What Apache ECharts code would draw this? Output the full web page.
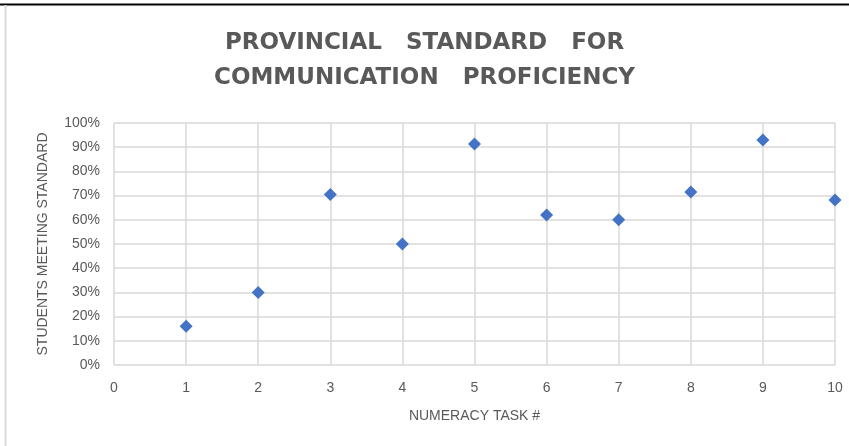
<!DOCTYPE html>
<html>
<head>
<meta charset="utf-8">
<script src="https://cdn.jsdelivr.net/npm/echarts@6/dist/echarts.min.js"></script>
<style>
  html, body { margin: 0; padding: 0; background: #fff; }
  #chart { width: 849px; height: 446px; }
</style>
</head>
<body>
<div id="chart"></div>
<script>
// task numbers and share of students meeting the standard (%)
const tasks = [1, 2, 3, 4, 5, 6, 7, 8, 9, 10]
const meeting = [16, 30, 70.5, 50, 91.3, 62, 60, 71.5, 93, 68.2]

const textColor = '#595959'
const gridColor = '#d9d9d9'
const fontFamily = 'Liberation Sans, Arial, sans-serif'

const chart = echarts.init(document.getElementById('chart'), null, { renderer: 'canvas' })

chart.setOption({
  animation: false,
  title: {
    text: 'PROVINCIAL   STANDARD   FOR\nCOMMUNICATION   PROFICIENCY',
    left: 'center',
    top: 21,
    textStyle: {
      color: textColor,
      fontFamily: 'DejaVu Sans',
      fontSize: 23,
      fontWeight: 'bold',
      lineHeight: 35
    }
  },
  graphic: [
    {
      type: 'line',
      shape: { x1: 0, y1: 4.5, x2: 849, y2: 4.5 },
      style: { stroke: '#000', lineWidth: 2 }
    },
    {
      type: 'line',
      shape: { x1: 5.5, y1: 5, x2: 5.5, y2: 446 },
      style: { stroke: gridColor, lineWidth: 2 }
    }
  ],
  grid: {
    left: 114,
    right: 14,
    top: 123,
    bottom: 81
  },
  xAxis: {
    type: 'value',
    min: 0,
    max: 10,
    interval: 1,
    name: 'NUMERACY TASK #',
    nameLocation: 'middle',
    nameGap: 44,
    nameTextStyle: { color: textColor, fontSize: 14, fontFamily },
    axisLine: { show: false },
    axisTick: { show: false },
    axisLabel: { color: textColor, fontSize: 14, fontFamily, margin: 16 },
    splitLine: { show: true, lineStyle: { color: gridColor, width: 1.5 } }
  },
  yAxis: {
    type: 'value',
    min: 0,
    max: 100,
    interval: 10,
    name: 'STUDENTS MEETING STANDARD',
    nameLocation: 'middle',
    nameGap: 64,
    nameTextStyle: { color: textColor, fontSize: 14, fontFamily },
    axisLine: { show: false },
    axisTick: { show: false },
    axisLabel: { color: textColor, fontSize: 14, fontFamily, margin: 14, formatter: '{value}%' },
    splitLine: { show: true, lineStyle: { color: gridColor, width: 1.5 } }
  },
  series: [
    {
      type: 'scatter',
      symbol: 'diamond',
      symbolSize: 13,
      itemStyle: { color: '#4472c4', opacity: 1 },
      data: tasks.map((t, i) => [t, meeting[i]])
    }
  ]
})
</script>
</body>
</html>
